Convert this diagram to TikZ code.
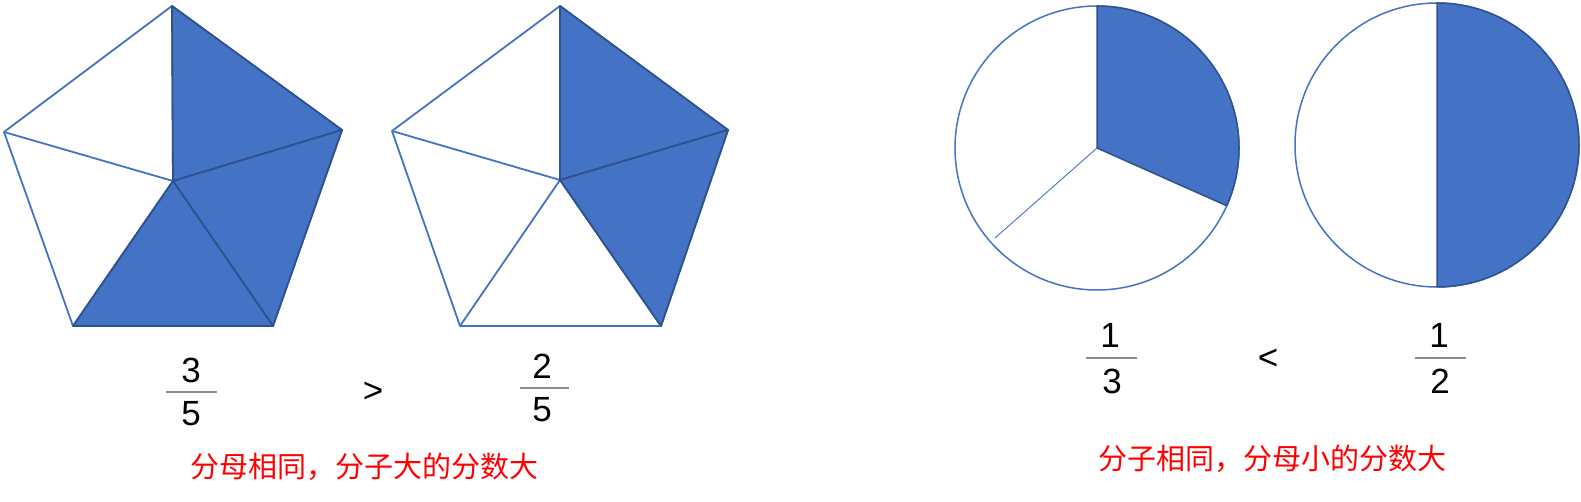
\documentclass[tikz,border=0pt]{standalone}
\usepackage{fontspec}
\setmainfont{Liberation Sans}
\newfontfamily\cjk{Noto Sans CJK SC}
\definecolor{lb}{HTML}{4472C4}
\definecolor{db}{HTML}{2F528F}
\begin{document}
\begin{tikzpicture}[x=1pt,y=-1pt, line join=round,
  edge/.style={draw=lb, line width=1.8pt},
  piece/.style={fill=lb, draw=db, line width=1.8pt},
  num/.style={font=\fontsize{35}{35}\selectfont, inner sep=0pt, anchor=base},
  bar/.style={draw=black!45, line width=1.3pt},
  note/.style={font=\cjk\fontsize{29}{29}\selectfont, text=red, inner sep=0pt}]
\useasboundingbox (0,0) rectangle (1581,502);

% ---------- pentagon 1 ----------
\coordinate (aT) at (172,6);
\coordinate (aR) at (342,130);
\coordinate (aBR) at (273,326);
\coordinate (aBL) at (73,326);
\coordinate (aL) at (4,132);
\coordinate (aC) at (173,181);
\draw[edge] (aT) -- (aR) -- (aBR) -- (aBL) -- (aL) -- cycle;
\draw[edge] (aC) -- (aT) (aC) -- (aR) (aC) -- (aBR) (aC) -- (aBL) (aC) -- (aL);
\draw[piece] (aT) -- (aR) -- (aC) -- cycle;
\draw[piece] (aR) -- (aBR) -- (aC) -- cycle;
\draw[piece] (aBR) -- (aBL) -- (aC) -- cycle;

% ---------- pentagon 2 ----------
\coordinate (bT) at (560,6);
\coordinate (bR) at (728,130);
\coordinate (bBR) at (661,326);
\coordinate (bBL) at (460,326);
\coordinate (bL) at (392,131);
\coordinate (bC) at (560,180);
\draw[edge] (bT) -- (bR) -- (bBR) -- (bBL) -- (bL) -- cycle;
\draw[edge] (bC) -- (bT) (bC) -- (bR) (bC) -- (bBR) (bC) -- (bBL) (bC) -- (bL);
\draw[piece] (bT) -- (bR) -- (bC) -- cycle;
\draw[piece] (bR) -- (bBR) -- (bC) -- cycle;

% ---------- circle 1 (thirds) ----------
\coordinate (cC) at (1097,148);
\coordinate (cE) at (995,238);
\draw[draw=lb, line width=1.5pt] (cC) circle[radius=142];
\draw[draw=lb, line width=0.9pt] (cC) -- (cE);
\fill[lb] (cC) -- ++(0,-142) arc[start angle=-90, end angle=24, radius=142] -- cycle;
\draw[draw=db, line width=1.5pt] (cC) -- ++(0,-142) arc[start angle=-90, end angle=24, radius=142] -- cycle;

% ---------- circle 2 (halves) ----------
\coordinate (dC) at (1437,145);
\draw[draw=lb, line width=1.5pt] (dC) circle[radius=142];
\fill[lb] (1437,3) arc[start angle=-90, end angle=90, radius=142] -- cycle;
\draw[draw=db, line width=1.5pt] (1437,3) arc[start angle=-90, end angle=90, radius=142] -- cycle;

% ---------- fractions ----------
\node[num] (n1) at (191,382) {3};
\draw[bar] (166,392) -- (217,392);
\node[num] (d1) at (191,425) {5};
\node[num] (gt) at (373,402) {>};
\node[num] (n2) at (542,378) {2};
\draw[bar] (520,388) -- (569,388);
\node[num] (d2) at (542,421) {5};

\node[num] (n3) at (1110,348) {1};
\draw[bar] (1086,358) -- (1137,358);
\node[num] (d3) at (1112,393) {3};
\node[num] (lt) at (1268,369) {<};
\node[num] (n4) at (1439,348) {1};
\draw[bar] (1415,358) -- (1466,358);
\node[num] (d4) at (1440,393) {2};

% ---------- notes ----------
\node[note] (t1) at (364,467) {分母相同，分子大的分数大};
\node[note] (t2) at (1272,459) {分子相同，分母小的分数大};
\end{tikzpicture}
\end{document}
